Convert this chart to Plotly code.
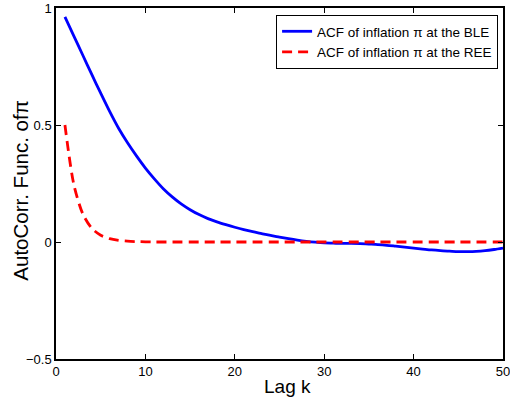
import plotly.graph_objects as go

lags = list(range(1, 51))
acf_ble = [0.962, 0.880, 0.798, 0.716, 0.636, 0.558, 0.486, 0.424, 0.368, 0.316,
           0.270, 0.228, 0.193, 0.163, 0.138, 0.117, 0.100, 0.086, 0.074, 0.063,
           0.053, 0.044, 0.036, 0.028, 0.021, 0.014, 0.008, 0.003, -0.001, -0.004,
           -0.005, -0.006, -0.006, -0.007, -0.009, -0.011, -0.014, -0.018, -0.022, -0.026,
           -0.030, -0.034, -0.037, -0.039, -0.041, -0.041, -0.040, -0.037, -0.032, -0.026]
acf_ree = [0.5, 0.245, 0.12, 0.059, 0.029, 0.014, 0.007, 0.0035, 0.0017, 0.0008] + [0.0] * 40

x_ticks = [0, 10, 20, 30, 40, 50]
y_ticks = [-0.5, 0, 0.5, 1]
y_tick_labels = ["\u22120.5", "0", "0.5", "1"]
x_title = "Lag k"
y_title = "AutoCorr. Func. of\u03c0"

font_family = "Liberation Sans, Arial, sans-serif"

fig = go.Figure()
fig.add_trace(go.Scatter(x=lags, y=acf_ble, mode="lines",
                         line=dict(color="#0000ff", width=2.8, shape="spline", smoothing=0.8),
                         name="ACF of inflation \u03c0 at the BLE"))
fig.add_trace(go.Scatter(x=lags, y=acf_ree, mode="lines",
                         line=dict(color="#ff0000", width=2.8, dash="10px,6px", shape="spline", smoothing=0.8),
                         name="ACF of inflation \u03c0 at the REE"))

axis_common = dict(showline=True, linecolor="black", linewidth=1.5, mirror="ticks",
                   ticks="inside", ticklen=5, tickcolor="black", tickwidth=1,
                   showgrid=False, zeroline=False, ticklabeloverflow="allow",
                   tickfont=dict(family=font_family, size=13, color="black"))

fig.update_layout(
    width=510, height=398,
    margin=dict(l=56, r=7, t=8, b=39),
    paper_bgcolor="white", plot_bgcolor="white",
    font=dict(family=font_family, color="black"),
    xaxis=dict(range=[0, 50], tickvals=x_ticks, **axis_common),
    yaxis=dict(range=[-0.5, 1], tickvals=y_ticks, ticktext=y_tick_labels, **axis_common),
    legend=dict(x=0.989, xanchor="right", y=0.98, yanchor="top",
                bordercolor="black", borderwidth=1, bgcolor="white",
                font=dict(family=font_family, size=13.5),
                tracegroupgap=0, itemwidth=30),
    showlegend=True,
    annotations=[
        dict(text=x_title, xref="paper", yref="paper", x=0.517, y=-0.077,
             xanchor="center", yanchor="middle", showarrow=False,
             font=dict(family=font_family, size=19, color="black")),
        dict(text=y_title, xref="paper", yref="paper", x=-0.0794, y=0.481,
             xanchor="center", yanchor="middle", showarrow=False, textangle=-90,
             font=dict(family=font_family, size=20.5, color="black")),
    ],
)
fig.update_xaxes(automargin=False)
fig.update_yaxes(automargin=False)

fig.write_html("out.html")
